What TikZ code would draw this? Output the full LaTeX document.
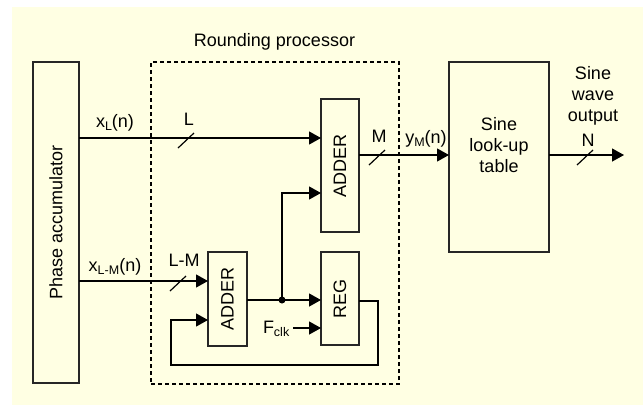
\documentclass[tikz,border=0pt]{standalone}
\usepackage{fontspec}
\setmainfont{Liberation Sans}
\usetikzlibrary{arrows.meta}
\definecolor{bgyel}{HTML}{FFFFE3}
\newcommand\mysub[1]{\raisebox{-0.32ex}{\fontsize{12.5bp}{13bp}\selectfont #1}}
\begin{document}
\begin{tikzpicture}[x=1bp,y=-1bp,line width=1.2bp,
  every node/.style={font=\fontsize{18bp}{21bp}\selectfont,inner sep=0pt,outer sep=0pt},
  box/.style={draw=black!85,fill=bgyel},
  arr/.style={-{Triangle[length=12bp,width=13bp]}},
  dashbox/.style={draw,dash pattern=on 4bp off 3bp}]
\useasboundingbox (0,0) rectangle (643,405);
\fill[bgyel] (12,7) rectangle (643,405);

% blocks
\node[box,minimum width=46bp,minimum height=321bp] (acc) at (56,222.5) {\rotatebox{90}{Phase accumulator}};
\node[dashbox,minimum width=248bp,minimum height=322bp] (rp) at (275,223) {};
\node[anchor=base] (rptitle) at (274.5,46.5) {Rounding processor};
\node[box,minimum width=38bp,minimum height=133bp] (add1) at (340,165.5) {\rotatebox{90}{ADDER}};
\node[box,minimum width=39bp,minimum height=94bp] (add2) at (227.5,299) {\rotatebox{90}{ADDER}};
\node[box,minimum width=38bp,minimum height=93bp] (reg) at (340,298.5) {\rotatebox{90}{REG}};
\node[box,minimum width=100bp,minimum height=190bp] (lut) at (499,157) {};
\node[align=center] (luttext) at (499,144.9) {Sine\\look-up\\table};
\node[align=center] (outtext) at (593,95.4) {Sine\\wave\\output};

% helper rows
\coordinate (hA) at (0,138);
\coordinate (hB) at (0,281);
\coordinate (hC) at (0,193);
\coordinate (hD) at (0,300);
\coordinate (hE) at (0,328);
\coordinate (hF) at (0,301);
\coordinate (hG) at (0,320);
\coordinate (hH) at (0,155);
\coordinate (j) at (282,300);
\coordinate (fb1) at (378,365);
\coordinate (fb2) at (171,365);
\coordinate (out) at (624,155);

% connectors
\draw[arr] (acc.east |- hA) -- (add1.west |- hA);
\draw[arr] (acc.east |- hB) -- (add2.west |- hB);
\draw[arr] (add2.east |- hD) -- (reg.west |- hD);
\fill (j) circle (3.5bp);
\draw[arr] (j) |- (add1.west |- hC);
\node[anchor=base west] (fclk) at (263,333) {F\mysub{clk}};
\draw[arr] ([xshift=4bp]fclk.east |- hE) -- (reg.west |- hE);
\draw[arr] (reg.east |- hF) -| (fb1) -- (fb2) |- (add2.west |- hG);
\draw[arr] (add1.east |- hH) -- (lut.west |- hH);
\draw[arr] (lut.east |- hH) -- (out);

% bus slashes
\coordinate (s1) at (186,138);
\coordinate (s2) at (178,281);
\coordinate (s3) at (377,155);
\coordinate (s4) at (585,155);
\foreach \s in {s1,s2,s3,s4}
  \draw ([shift={(-8,10)}]\s) -- ([shift={(8,-5)}]\s);

% labels
\node[anchor=base] (lxl) at (115,127.5) {x\mysub{L}(n)};
\node[anchor=base] (ll) at (189,125) {L};
\node[anchor=base] (lxlm) at (115,271.5) {x\mysub{L-M}(n)};
\node[anchor=base] (llm) at (184,266.5) {L-M};
\node[anchor=base] (lm) at (379,142) {M};
\node[anchor=base] (lym) at (426,143) {y\mysub{M}(n)};
\node[anchor=base] (ln) at (588,146.5) {N};
\end{tikzpicture}
\end{document}
